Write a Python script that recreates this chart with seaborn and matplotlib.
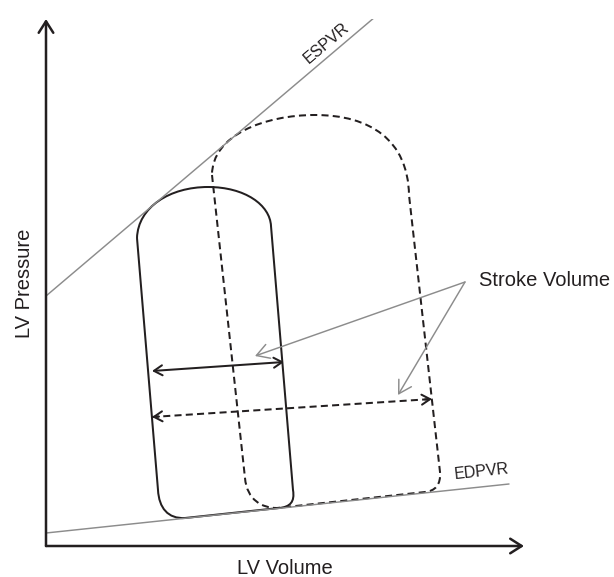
import numpy as np
import matplotlib.pyplot as plt
import seaborn as sns
from matplotlib.path import Path
from matplotlib.patches import PathPatch

sns.set_theme(style="white")
plt.rcParams['font.family'] = ['Liberation Sans', 'DejaVu Sans']

INK = "#231f20"
GREY = "#8c8c8c"

# ---------------------------
# Data (arbitrary volume / pressure units)
# ---------------------------
espvr_v = [0, 329]
espvr_p = [250, 529]

edpvr_v = [0, 463]
edpvr_p = [13, 62]

# normal loop: vertices (Bezier control points) and segment codes
solid_v = [91, 92, 124, 162, 199, 224, 225, 247, 249, 244, 233, 139, 122, 113, 112, 91]
solid_p = [308, 339, 359, 359, 359, 341, 320, 56, 44, 39, 38, 28, 27, 38, 56, 308]
solid_codes = ["M", "C", "C", "C", "C", "C", "C", "L", "C", "C", "C", "L", "C", "C", "C", "L"]

# loop after increased preload
dashed_v = [166, 199, 201, 216, 231, 379, 389, 395, 394, 363, 362, 324, 269, 219, 166, 166]
dashed_p = [371, 68, 46, 38, 38, 54, 55, 61, 74, 351, 406, 431, 431, 431, 411, 371]
dashed_codes = ["M", "L", "C", "C", "C", "L", "C", "C", "C", "L", "C", "C", "C", "C", "C", "C"]

# stroke volume arrows (start, end)
sv_solid = [(106, 175), (238, 184)]
sv_dashed = [(106, 129), (386, 147)]

# "Stroke Volume" pointers
sv_label_at = (419, 264)
sv_pointer_tips = [(209, 190), (352, 151)]

X_MAX, Y_MAX = 478, 527

CODE = {"M": Path.MOVETO, "L": Path.LINETO, "C": Path.CURVE4}
LOOP_LW = 1.45
DASH = (0, (3.5, 2.1))


def loop_patch(v, p, codes, ls):
    path = Path(np.column_stack([v, p]), [CODE[c] for c in codes])
    return PathPatch(path, facecolor="none", edgecolor=INK, lw=LOOP_LW,
                     linestyle=ls, capstyle="butt", joinstyle="round")


fig = plt.figure(figsize=(6.14, 5.77), dpi=100)
ax = fig.add_axes([46 / 614, 31 / 577, X_MAX / 614, Y_MAX / 577])
ax.set_xlim(0, X_MAX)
ax.set_ylim(0, Y_MAX)
ax.set_axis_off()

# ESPVR / EDPVR
sns.lineplot(x=espvr_v, y=espvr_p, sort=False, color=GREY, lw=1.05, ax=ax)
sns.lineplot(x=edpvr_v, y=edpvr_p, sort=False, color=GREY, lw=1.05, ax=ax)

# PV loops
ax.add_patch(loop_patch(solid_v, solid_p, solid_codes, "-"))
ax.add_patch(loop_patch(dashed_v, dashed_p, dashed_codes, DASH))

# axes with arrow heads
axis_arrow = dict(arrowstyle="->,head_length=0.55,head_width=0.35", color=INK,
                  lw=1.8, shrinkA=0, shrinkB=0, mutation_scale=15)
ax.annotate("", xy=(X_MAX, 0), xytext=(0, 0), arrowprops=axis_arrow, annotation_clip=False)
ax.annotate("", xy=(0, Y_MAX), xytext=(0, 0), arrowprops=axis_arrow, annotation_clip=False)

# stroke volume double arrows
sv_head = dict(arrowstyle="<->,head_length=0.5,head_width=0.3", color=INK,
               lw=LOOP_LW, shrinkA=0, shrinkB=0, mutation_scale=12)
ax.annotate("", xy=sv_solid[1], xytext=sv_solid[0], arrowprops=sv_head)

(x0, y0), (x1, y1) = sv_dashed
sns.lineplot(x=[x0, x1], y=[y0, y1], sort=False, color=INK, lw=LOOP_LW,
             linestyle=DASH, ax=ax)
one_head = dict(arrowstyle="->,head_length=0.5,head_width=0.3", color=INK,
                lw=LOOP_LW, shrinkA=0, shrinkB=0, mutation_scale=12)
dx, dy = (x1 - x0) / 40, (y1 - y0) / 40
ax.annotate("", xy=(x1, y1), xytext=(x1 - dx, y1 - dy), arrowprops=one_head)
ax.annotate("", xy=(x0, y0), xytext=(x0 + dx, y0 + dy), arrowprops=one_head)

# pointers from the label
pointer = dict(arrowstyle="->,head_length=0.6,head_width=0.35", color=GREY,
               lw=1.05, shrinkA=0, shrinkB=0, mutation_scale=15)
for tip in sv_pointer_tips:
    ax.annotate("", xy=tip, xytext=sv_label_at, arrowprops=pointer)

# text
ax.text(sv_label_at[0] + 14, sv_label_at[1] + 1, "Stroke Volume", fontsize=14.5,
        color=INK, ha="left", va="center", clip_on=False)
ax.text(281, 503, "ESPVR", fontsize=11.5, color=INK, rotation=40.2,
        ha="center", va="center", rotation_mode="anchor")
ax.text(436, 74, "EDPVR", fontsize=11.5, color=INK, rotation=6,
        ha="center", va="center", rotation_mode="anchor")
ax.text(X_MAX / 2, -22, "LV Volume", fontsize=14.5, color=INK,
        ha="center", va="center", clip_on=False)
ax.text(-22, 263, "LV Pressure", fontsize=14.5, color=INK, rotation=90,
        ha="center", va="center", clip_on=False)

fig.savefig("out.png", dpi=100)
